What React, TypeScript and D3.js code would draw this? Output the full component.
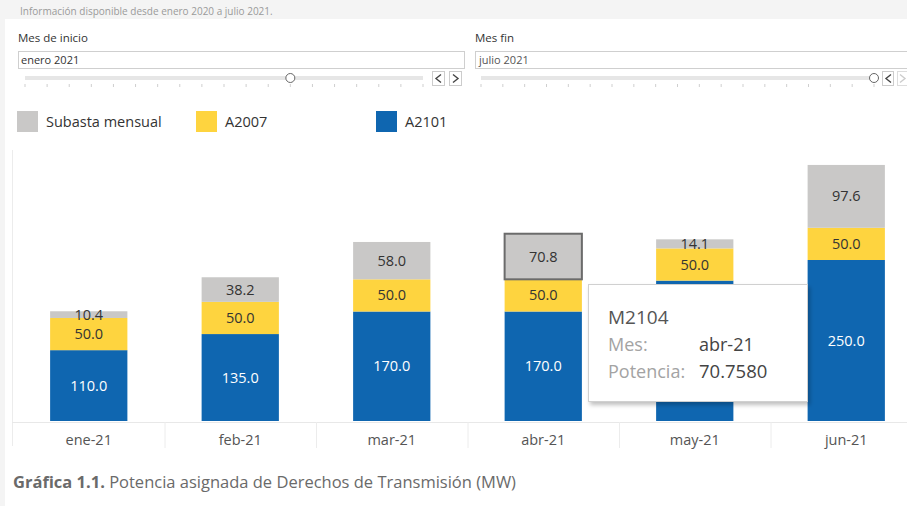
import React from "react";
import * as d3 from "d3";

const categories = ["ene-21", "feb-21", "mar-21", "abr-21", "may-21", "jun-21"];
const a2101 = [110.0, 135.0, 170.0, 170.0, 218.0, 250.0];
const a2007 = [50.0, 50.0, 50.0, 50.0, 50.0, 50.0];
const subasta = [10.4, 38.2, 58.0, 70.8, 14.1, 97.6];
const seriesNames = ["A2101", "A2007", "Subasta mensual"];
const legendOrder = ["Subasta mensual", "A2007", "A2101"];
const sliderMonths = d3.range(19);
const startIndex = 12;
const endIndex = 18;

const COLORS: Record<string, string> = {
  "A2101": "#0F66B0",
  "A2007": "#FED43F",
  "Subasta mensual": "#C9C8C7",
};
const LABEL_COLORS: Record<string, string> = {
  "A2101": "#ffffff",
  "A2007": "#333333",
  "Subasta mensual": "#333333",
};

const FONT = "'Open Sans', 'Noto Sans', sans-serif";

export default function App() {
  const W = 907, H = 506;
  const x = d3.scaleBand<string>().domain(categories).range([13, 922]).paddingInner(0.49).paddingOuter(0.245);
  const band = d3.scaleBand<string>().domain(categories).range([13, 922]);
  const y = d3.scaleLinear().domain([0, 100]).range([421, 421 - 64.4]);

  const rows = categories.map((c, i) => ({ cat: c, "A2101": a2101[i], "A2007": a2007[i], "Subasta mensual": subasta[i] }));
  const stacked = d3.stack<any>().keys(seriesNames)(rows);

  const s1 = d3.scalePoint<number>().domain(sliderMonths).range([25, 423]);
  const s2 = d3.scalePoint<number>().domain(sliderMonths).range([481, 874]);

  const bw = x.bandwidth();
  const tip = { x: 588.5, y: 284.5, w: 219, h: 117 };
  const underTip = (px: number, py: number) =>
    px > tip.x && px < tip.x + tip.w && py > tip.y && py < tip.y + tip.h;

  return (
    <svg width={W} height={H} style={{ position: "absolute", left: 0, top: 0, background: "#fff" }} fontFamily={FONT}>
      <defs>
        <filter id="shadow" x="-10%" y="-10%" width="130%" height="130%">
          <feDropShadow dx="2" dy="3" stdDeviation="2" floodColor="#000" floodOpacity="0.25" />
        </filter>
      </defs>
      {/* background strips */}
      <rect x={0} y={0} width={W} height={19} fill="#f4f4f4" />
      <rect x={0} y={0} width={5} height={H} fill="#f4f4f4" />
      <text x={20} y={15} fontSize={10} fill="#9a9a9a">Información disponible desde enero 2020 a julio 2021.</text>

      {/* Filters */}
      <text x={18} y={42} fontSize={11.5} fill="#333">Mes de inicio</text>
      <rect x={18.5} y={51.5} width={446} height={17} fill="#fff" stroke="#cfcfcf" />
      <text x={21} y={64} fontSize={11} fill="#333">enero 2021</text>
      <rect x={25} y={76} width={398} height={4} fill="#e6e6e6" />
      {sliderMonths.map((m) => (
        <line key={"t1" + m} x1={s1(m)} x2={s1(m)} y1={84} y2={87} stroke="#cfcfcf" />
      ))}
      <circle cx={s1(startIndex)} cy={78} r={4.5} fill="#fff" stroke="#666" />
      <rect x={432.5} y={71.5} width={12} height={14} fill="#fff" stroke="#ccc" />
      <path d="M441,74.5 L436,78.5 L441,82.5" fill="none" stroke="#444" strokeWidth={1.4} />
      <rect x={449.5} y={71.5} width={12} height={14} fill="#fff" stroke="#ccc" />
      <path d="M453,74.5 L458,78.5 L453,82.5" fill="none" stroke="#444" strokeWidth={1.4} />

      <text x={475} y={42} fontSize={11.5} fill="#333">Mes fin</text>
      <rect x={475.5} y={51.5} width={440} height={17} fill="#fff" stroke="#cfcfcf" />
      <text x={479} y={64} fontSize={11} fill="#555">julio 2021</text>
      <rect x={481} y={76} width={393} height={4} fill="#e6e6e6" />
      {sliderMonths.map((m) => (
        <line key={"t2" + m} x1={s2(m)} x2={s2(m)} y1={84} y2={87} stroke="#cfcfcf" />
      ))}
      <circle cx={s2(endIndex)} cy={78} r={4.5} fill="#fff" stroke="#666" />
      <rect x={882.5} y={71.5} width={11} height={14} fill="#fff" stroke="#ccc" />
      <path d="M891,74.5 L886,78.5 L891,82.5" fill="none" stroke="#444" strokeWidth={1.4} />
      <rect x={897.5} y={71.5} width={12} height={14} fill="#fff" stroke="#ddd" />
      <path d="M900,74.5 L905,78.5 L900,82.5" fill="none" stroke="#ccc" strokeWidth={1.4} />

      {/* Legend */}
      {legendOrder.map((name, i) => {
        const lx = [17, 196, 376][i];
        return (
          <g key={name}>
            <rect x={lx} y={111} width={21} height={21} fill={COLORS[name]} />
            <text x={lx + 29} y={127} fontSize={14.5} fill="#333">{name}</text>
          </g>
        );
      })}

      {/* Chart frame */}
      <line x1={12.5} x2={12.5} y1={150} y2={446} stroke="#ececec" />
      <line x1={12} x2={W} y1={422.5} y2={422.5} stroke="#e8e8e8" />
      {categories.slice(1).map((c) => (
        <line key={"sep" + c} x1={band(c)! + 0.5} x2={band(c)! + 0.5} y1={422} y2={448} stroke="#ececec" />
      ))}

      {/* Bars */}
      {stacked.map((layer) => (
        <g key={layer.key}>
          {layer.map((d: any, i: number) => {
            const cat = categories[i];
            const x0 = x(cat)!;
            const yTop = y(d[1]);
            const yBot = y(d[0]);
            const h = yBot - yTop;
            const selected = layer.key === "Subasta mensual" && cat === "abr-21";
            const val = d[1] - d[0];
            const lx = x0 + bw / 2;
            const ly = (yTop + yBot) / 2 + 5;
            return (
              <g key={cat}>
                <rect x={x0} y={yTop} width={bw} height={h} fill={COLORS[layer.key]}
                  stroke={selected ? "#6b6b6b" : "none"} strokeWidth={selected ? 2 : 0} />
                {!underTip(lx, ly) && (
                  <text x={lx} y={ly} textAnchor="middle" fontSize={14.5}
                    fill={LABEL_COLORS[layer.key]}>{val.toFixed(1)}</text>
                )}
              </g>
            );
          })}
        </g>
      ))}

      {/* X axis labels */}
      {categories.map((c) => (
        <text key={"xl" + c} x={band(c)! + band.bandwidth() / 2} y={445} textAnchor="middle" fontSize={14.5} fill="#555">{c}</text>
      ))}

      {/* Tooltip */}
      <g filter="url(#shadow)">
        <rect x={tip.x} y={tip.y} width={tip.w} height={tip.h} fill="#fff" stroke="#d0d0d0" />
      </g>
      <text x={608} y={324} fontSize={19} fill="#555">M2104</text>
      <text x={608} y={351} fontSize={18} fill="#a3a3a3">Mes:</text>
      <text x={699} y={351} fontSize={18} fill="#444">abr-21</text>
      <text x={608} y={378} fontSize={18} fill="#a3a3a3">Potencia:</text>
      <text x={699} y={378} fontSize={18.5} fill="#444">70.7580</text>

      {/* Caption */}
      <text x={13} y={488} fontSize={16.5} fill="#6a6a6a">
        <tspan fontWeight="bold">Gráfica 1.1.</tspan> Potencia asignada de Derechos de Transmisión (MW)
      </text>
    </svg>
  );
}
